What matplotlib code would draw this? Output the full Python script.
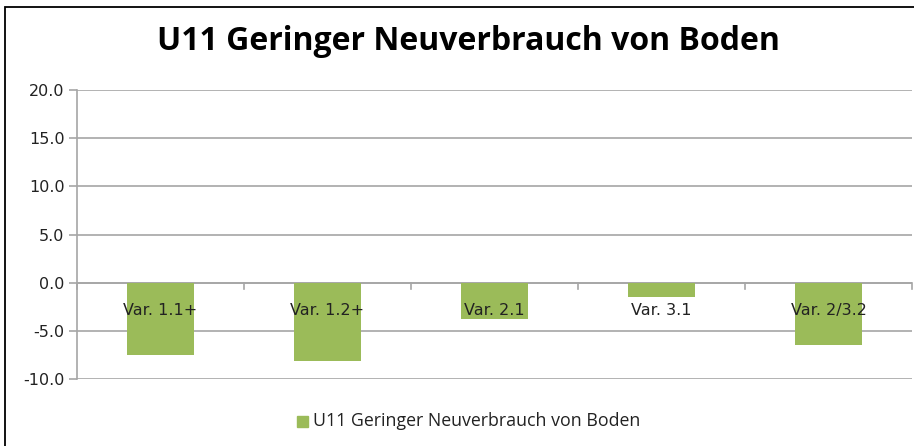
import matplotlib
matplotlib.use("Agg")
import matplotlib.pyplot as plt
from matplotlib.patches import Rectangle

# values per variant
categories = ["Var. 1.1+", "Var. 1.2+", "Var. 2.1", "Var. 3.1", "Var. 2/3.2"]
values = [-7.5, -8.1, -3.8, -1.5, -6.5]
series_name = "U11 Geringer Neuverbrauch von Boden"
yticks = [-10, -5, 0, 5, 10, 15, 20]

bar_color = "#9BBB59"
grid_color = "#A6A6A6"

fig = plt.figure(figsize=(9.14, 4.46), dpi=100)
ax = fig.add_axes([77 / 914, 1 - 379 / 446, (912 - 77) / 914, (379 - 90) / 446])

x = list(range(len(categories)))
ax.bar(x, values, width=0.4, color=bar_color, zorder=3)

ax.set_xlim(-0.5, len(categories) - 0.5)
ax.set_ylim(-10, 20)
ax.set_yticks(yticks)
ax.set_yticklabels(["%.1f" % v for v in yticks], fontsize=11.5, family="DejaVu Sans", color="#222222")
ax.yaxis.grid(True, color=grid_color, linewidth=1.2, zorder=0)
ax.tick_params(axis="y", length=6, color=grid_color, width=1.2, pad=3)

# category ticks and labels sit on the zero line
ax.set_xticks([])
ax.axhline(0, color=grid_color, linewidth=1.2, zorder=2)
for b in range(len(categories) + 1):
    ax.plot([b - 0.5, b - 0.5], [0, -0.7], color=grid_color, linewidth=1.2, zorder=2, clip_on=False)
for i, name in enumerate(categories):
    ax.text(i, -2.9, name, ha="center", va="center", fontsize=11.5, family="DejaVu Sans",
            color="#222222", zorder=4)

for side in ["top", "right", "bottom"]:
    ax.spines[side].set_visible(False)
ax.spines["left"].set_color(grid_color)
ax.spines["left"].set_linewidth(1.2)

fig.text(468 / 914, 1 - 42 / 446, series_name, ha="center", va="center",
         fontsize=23, fontweight="bold", family="Open Sans")

# legend
fig.patches.append(Rectangle((297 / 914, 1 - 427 / 446), 11 / 914, 11 / 446,
                             transform=fig.transFigure, color=bar_color))
fig.text(313 / 914, 1 - 421 / 446, series_name, ha="left", va="center",
         fontsize=12.8, family="Open Sans", color="#222222")

# chart frame
fig.patches.append(Rectangle((5 / 914, -0.01), 1.02, 1 - 7 / 446 + 0.01,
                             transform=fig.transFigure, fill=False,
                             edgecolor="black", linewidth=1.3))

fig.savefig("out.png", dpi=100)
